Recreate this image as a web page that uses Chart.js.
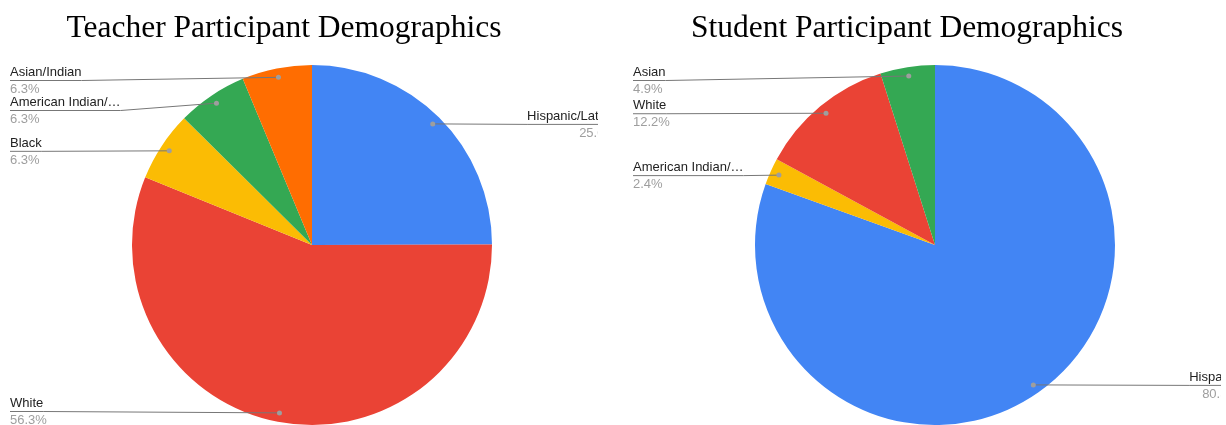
<!DOCTYPE html>
<html>
<head>
<meta charset="utf-8">
<script src="https://cdn.jsdelivr.net/npm/chart.js@4.4.0/dist/chart.umd.min.js"></script>
<style>
  body { margin: 0; background: #fff; width: 1226px; height: 425px; overflow: hidden; position: relative; }
  .title { position: absolute; top: 12px; width: 568px; text-align: center; font: 31.5px "Liberation Serif", "Times New Roman", serif; line-height: 30px; color: #000; white-space: nowrap; }
  .box { position: absolute; top: 0; width: 598px; height: 425px; }
</style>
</head>
<body>
<div class="box" style="left:0"><canvas id="teacherChart" width="598" height="425"></canvas></div>
<div class="box" style="left:623px"><canvas id="studentChart" width="598" height="425"></canvas></div>
<div class="title" style="left:0">Teacher Participant Demographics</div>
<div class="title" style="left:623px">Student Participant Demographics</div>
<script>
const teacherLabels = ['Hispanic/Latino', 'White', 'Black', 'American Indian/…', 'Asian/Indian'];
const teacherValues = [25.0, 56.3, 6.3, 6.3, 6.3];
const teacherColors = ['#4285f4', '#ea4335', '#fbbc04', '#34a853', '#ff6d01'];

const studentLabels = ['Hispanic', 'American Indian/…', 'White', 'Asian'];
const studentValues = [80.5, 2.4, 12.2, 4.9];
const studentColors = ['#4285f4', '#fbbc04', '#ea4335', '#34a853'];

const labelFont = '13px "Liberation Sans", Arial, sans-serif';

// leader-line labels like the google sheets pie
const sideLabels = {
  id: 'sideLabels',
  afterDatasetsDraw(chart) {
    const ctx = chart.ctx;
    const meta = chart.getDatasetMeta(0);
    const values = chart.data.datasets[0].data;
    const left = [], right = [];
    meta.data.forEach((arc, i) => {
      const a = (arc.startAngle + arc.endAngle) / 2;
      const r = arc.outerRadius * 0.95;
      const item = {
        name: chart.data.labels[i],
        pct: values[i].toFixed(1) + '%',
        dx: arc.x + Math.cos(a) * r,
        dy: arc.y + Math.sin(a) * r
      };
      (Math.cos(a) < 0 ? left : right).push(item);
    });
    const place = list => {
      list.sort((p, q) => p.dy - q.dy);
      let prev = -Infinity;
      list.forEach(it => {
        it.ly = Math.min(Math.max(it.dy, prev + 30, 80), chart.height - 14);
        prev = it.ly;
      });
    };
    place(left);
    place(right);

    ctx.save();
    ctx.font = labelFont;
    const draw = (it, isLeft) => {
      const w = ctx.measureText(it.name).width;
      const x0 = isLeft ? 10 : 616;
      const bend = isLeft ? x0 + w : x0 - w;
      ctx.strokeStyle = '#777';
      ctx.lineWidth = 1;
      ctx.beginPath();
      ctx.moveTo(x0, it.ly + 0.5);
      ctx.lineTo(bend, it.ly + 0.5);
      ctx.lineTo(it.dx, it.dy);
      ctx.stroke();
      ctx.fillStyle = '#9e9e9e';
      ctx.beginPath();
      ctx.arc(it.dx, it.dy, 2.5, 0, Math.PI * 2);
      ctx.fill();
      ctx.textAlign = isLeft ? 'left' : 'right';
      ctx.textBaseline = 'alphabetic';
      ctx.fillStyle = '#222';
      ctx.fillText(it.name, x0, it.ly - 4);
      ctx.fillStyle = '#9e9e9e';
      ctx.fillText(it.pct, x0, it.ly + 13);
    };
    left.forEach(it => draw(it, true));
    right.forEach(it => draw(it, false));
    ctx.restore();
  }
};

function makePie(id, labels, values, colors) {
  new Chart(document.getElementById(id), {
    type: 'pie',
    data: {
      labels: labels,
      datasets: [{
        data: values,
        backgroundColor: colors,
        borderWidth: 0
      }]
    },
    options: {
      responsive: false,
      animation: false,
      layout: { padding: { left: 132, right: 106, top: 65, bottom: 0 } },
      plugins: { legend: { display: false }, tooltip: { enabled: false } }
    },
    plugins: [sideLabels]
  });
}

makePie('teacherChart', teacherLabels, teacherValues, teacherColors);
makePie('studentChart', studentLabels, studentValues, studentColors);
</script>
</body>
</html>
